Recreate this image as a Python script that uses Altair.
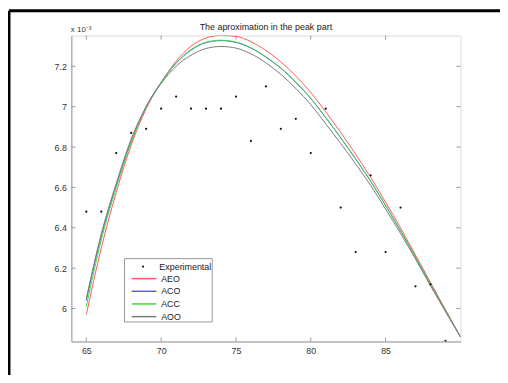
import altair as alt
import pandas as pd

# ---- data (values in units of 1e-3) ----
exp_x = [65, 66, 67, 68, 69, 70, 71, 72, 73, 74, 75, 76, 77, 78, 79, 80, 81, 82, 83, 84, 85, 86, 87, 88, 89]
exp_y = [6.48, 6.48, 6.77, 6.87, 6.89, 6.99, 7.05, 6.99, 6.99, 6.99, 7.05, 6.83, 7.10, 6.89, 6.94,
         6.77, 6.99, 6.50, 6.28, 6.66, 6.28, 6.50, 6.11, 6.12, 5.84]

fit_x = list(range(65, 91))
aeo = [5.97, 6.30, 6.575, 6.81, 6.99, 7.12, 7.225, 7.30, 7.34, 7.353, 7.348, 7.322, 7.278, 7.222,
       7.152, 7.07, 6.975, 6.872, 6.764, 6.65, 6.527, 6.40, 6.265, 6.13, 5.995, 5.86]
aco = [6.04, 6.36, 6.61, 6.83, 7.00, 7.12, 7.215, 7.28, 7.317, 7.327, 7.318, 7.29, 7.245, 7.19,
       7.12, 7.04, 6.945, 6.845, 6.74, 6.63, 6.51, 6.385, 6.255, 6.12, 5.99, 5.86]
acc = [6.01, 6.34, 6.60, 6.825, 6.998, 7.12, 7.217, 7.283, 7.319, 7.329, 7.32, 7.292, 7.247, 7.192,
       7.122, 7.042, 6.947, 6.847, 6.742, 6.632, 6.512, 6.386, 6.256, 6.12, 5.99, 5.86]
aoo = [6.05, 6.37, 6.62, 6.84, 7.00, 7.115, 7.20, 7.255, 7.288, 7.298, 7.29, 7.262, 7.217, 7.16,
       7.09, 7.01, 6.915, 6.818, 6.716, 6.61, 6.493, 6.372, 6.245, 6.113, 5.985, 5.86]

fit_names = ["AEO", "ACO", "ACC", "AOO"]
fit_colors = ["#ff5a5a", "#5a5aff", "#3cdc3c", "#7a7a7a"]
exp_name = ["Experimental"]
exp_color = ["#111111"]

x_ticks = [65, 70, 75, 80, 85]
y_ticks = [6.0, 6.2, 6.4, 6.6, 6.8, 7.0, 7.2]

X_DOM = [64, 90]
Y_DOM = [5.837, 7.352]

# ---- tables ----
exp_df = pd.DataFrame({"x": exp_x, "y": exp_y, "series": "Experimental"})
fit_rows = []
for name, vals in zip(fit_names, [aeo, aco, acc, aoo]):
    for xv, yv in zip(fit_x, vals):
        fit_rows.append({"x": xv, "y": yv, "series": name})
fit_df = pd.DataFrame(fit_rows)
xt_df = pd.DataFrame({"x": x_ticks})
yt_df = pd.DataFrame({"y": y_ticks})
one_df = pd.DataFrame({"k": [0]})

W, H = 393, 309
FONT = "Liberation Sans"

xscale = alt.Scale(domain=X_DOM, nice=False, zero=False)
yscale = alt.Scale(domain=Y_DOM, nice=False, zero=False)

x_enc = alt.X("x:Q", scale=xscale,
              axis=alt.Axis(values=x_ticks, title=None, grid=False, ticks=False,
                            labelFontSize=9, labelPadding=5, labelColor="#333",
                            domainColor="#999", labelFont=FONT))
y_enc = alt.Y("y:Q", scale=yscale,
              axis=alt.Axis(values=y_ticks, title="x 10⁻³", grid=False, ticks=False,
                            labelFontSize=9, labelPadding=5, labelColor="#333",
                            domainColor="#999", labelFont=FONT,
                            labelExpr="format(datum.value, '~g')",
                            titleAngle=0, titleX=-1, titleY=-4, titleAlign="left",
                            titleBaseline="alphabetic", titleFontSize=8,
                            titleFontWeight="normal", titleColor="#333", titleFont=FONT))

leg_common = dict(title=None, orient="none", padding=0, labelFontSize=9, labelFont=FONT,
                  labelColor="#222")

# thin horizontal line symbol (custom path, unit box is -1..1)
LINE_PATH = "M-4,0H4"

lines = alt.Chart(fit_df).mark_line(strokeWidth=1, clip=True, interpolate="monotone").encode(
    x=x_enc, y=y_enc,
    stroke=alt.Stroke("series:N", scale=alt.Scale(domain=fit_names, range=fit_colors),
                      legend=alt.Legend(legendX=68.9, legendY=241, symbolType=LINE_PATH,
                                        symbolSize=39, symbolStrokeWidth=1.5,
                                        labelOffset=12.8, rowPadding=2.8, **leg_common)),
)

points = alt.Chart(exp_df).mark_circle(size=5, opacity=1, clip=True).encode(
    x=alt.X("x:Q", scale=xscale), y=alt.Y("y:Q", scale=yscale),
    fill=alt.Fill("series:N", scale=alt.Scale(domain=exp_name, range=exp_color),
                  legend=alt.Legend(legendX=67.9, legendY=228.8, symbolType="circle",
                                    symbolSize=5, symbolStrokeWidth=0,
                                    labelOffset=12, **leg_common)),
)

# legend box
legbox = alt.Chart(one_df).mark_rect(fill="white", stroke="#999", strokeWidth=1).encode(
    x=alt.value(53.7), x2=alt.value(142.3), y=alt.value(225.3), y2=alt.value(289.3))

tick_style = dict(color="#999", strokeWidth=1)
xt_top = alt.Chart(xt_df).mark_rule(**tick_style).encode(
    x=alt.X("x:Q", scale=xscale), y=alt.value(0), y2=alt.value(4))
xt_bot = alt.Chart(xt_df).mark_rule(**tick_style).encode(
    x=alt.X("x:Q", scale=xscale), y=alt.value(H - 4), y2=alt.value(H))
yt_left = alt.Chart(yt_df).mark_rule(**tick_style).encode(
    y=alt.Y("y:Q", scale=yscale), x=alt.value(0), x2=alt.value(4))
yt_right = alt.Chart(yt_df).mark_rule(**tick_style).encode(
    y=alt.Y("y:Q", scale=yscale), x=alt.value(W - 4), x2=alt.value(W))

# outer figure frame (decorative)
frame_left = alt.Chart(one_df).mark_rule(color="black", strokeWidth=3).encode(
    x=alt.value(-63), y=alt.value(-25), y2=alt.value(345))
frame_top = alt.Chart(one_df).mark_rule(color="black", strokeWidth=3).encode(
    x=alt.value(-63), x2=alt.value(440), y=alt.value(-25))

chart = alt.layer(frame_left, frame_top, xt_top, xt_bot, yt_left, yt_right, lines, points, legbox).properties(
    width=W, height=H,
    title=alt.Title("The aproximation in the peak part", fontSize=9, fontWeight="normal",
                    font=FONT, color="#222", offset=5, anchor="middle", dy=28),
    autosize=alt.AutoSizeParams(type="none"),
    padding={"left": 64, "top": 26, "right": 40, "bottom": 32},
).resolve_scale(stroke="independent", fill="independent").configure_view(
    stroke="#999", strokeWidth=1).configure(background="white")

chart.save("out.html", embed_options={"renderer": "svg", "actions": False})
